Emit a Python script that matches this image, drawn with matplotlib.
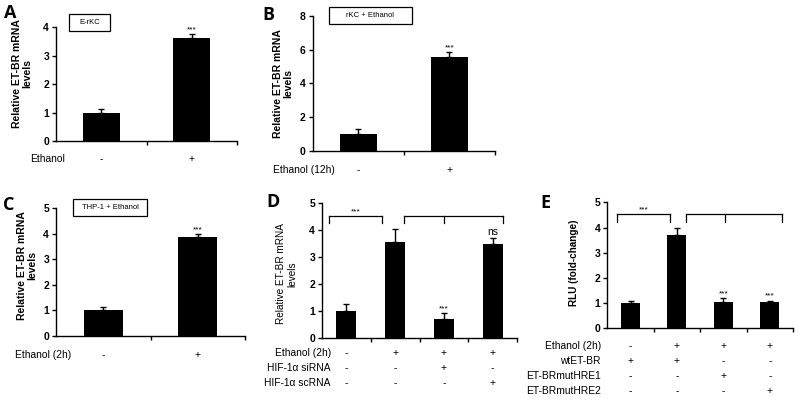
import numpy as np
import matplotlib
matplotlib.use('Agg')
import matplotlib.pyplot as plt
from matplotlib.patches import Rectangle
from matplotlib.transforms import blended_transform_factory

plt.rcParams['font.family'] = ['Liberation Sans', 'DejaVu Sans']

# ---------------- data ----------------
A_signs = ['-', '+']
A_values = [1.0, 3.62]
A_errors = [0.13, 0.14]

B_signs = ['-', '+']
B_values = [1.0, 5.55]
B_errors = [0.27, 0.33]

C_signs = ['-', '+']
C_values = [1.0, 3.88]
C_errors = [0.11, 0.10]

D_values = [1.0, 3.58, 0.71, 3.50]
D_errors = [0.26, 0.47, 0.22, 0.23]
D_row_labels = ['Ethanol (2h)', 'HIF-1α siRNA', 'HIF-1α scRNA']
D_rows = [['-', '+', '+', '+'],
          ['-', '-', '+', '-'],
          ['-', '-', '-', '+']]

E_values = [1.0, 3.70, 1.06, 1.03]
E_errors = [0.08, 0.27, 0.13, 0.07]
E_row_labels = ['Ethanol (2h)', 'wtET-BR', 'ET-BRmutHRE1', 'ET-BRmutHRE2']
E_rows = [['-', '+', '+', '+'],
          ['+', '+', '-', '-'],
          ['-', '-', '+', '-'],
          ['-', '-', '-', '+']]

W, H = 800, 400
fig = plt.figure(figsize=(8, 4), dpi=100)


def fx(x):
    return x / W


def fy(y):
    return 1 - y / H


def make_ax(x0, x1, ytop, ybot, ymax, ystep, n):
    ax = fig.add_axes([fx(x0), fy(ybot), (x1 - x0) / W, (ybot - ytop) / H])
    ax.set_xlim(-0.5, n - 0.5)
    ax.set_ylim(0, ymax)
    ax.set_yticks(np.arange(0, ymax + 0.01, ystep))
    ax.set_yticklabels([f'{int(v)}' for v in np.arange(0, ymax + 0.01, ystep)],
                       fontweight='bold')
    for s in ['top', 'right']:
        ax.spines[s].set_visible(False)
    for s in ['left', 'bottom']:
        ax.spines[s].set_linewidth(1.0)
    ax.set_xticks([])
    ax.set_xticks(np.arange(0.5, n, 1), minor=True)
    ax.tick_params(axis='x', which='minor', direction='out', length=3, width=1)
    ax.tick_params(axis='y', direction='out', length=3, width=1, labelsize=7.5, pad=2)
    return ax


def draw_bars(ax, values, errors):
    n = len(values)
    x = np.arange(n)
    ax.bar(x, values, width=0.41, color='black', zorder=2)
    ax.errorbar(x, values, yerr=[np.zeros(n), errors], fmt='none', ecolor='black',
                elinewidth=1, capsize=2.5, capthick=1, zorder=3)


def stars(ax, i, values, errors, text='***', size=6):
    ax.annotate(text, (i, values[i] + errors[i]), xytext=(0, 0.5),
                textcoords='offset points', ha='center', va='bottom', fontsize=size)


def rows(ax, labels, signs, ys, xlab, ha):
    tr = blended_transform_factory(ax.transData, fig.transFigure)
    for lab, sg, y in zip(labels, signs, ys):
        fig.text(fx(xlab), fy(y), lab, ha=ha, va='center', fontsize=7.4)
        for i, s in enumerate(sg):
            ax.text(i, fy(y), s, transform=tr, ha='center', va='center', fontsize=7.4)


def label_box(x0, y0, x1, y1, text):
    fig.patches.append(Rectangle((fx(x0), fy(y1)), (x1 - x0) / W, (y1 - y0) / H,
                                 transform=fig.transFigure, fill=False,
                                 edgecolor='black', linewidth=0.9))
    fig.text(fx((x0 + x1) / 2), fy((y0 + y1) / 2), text, ha='center', va='center',
             fontsize=5.5)


def ylab(x, y, text, weight='bold', size=7.5):
    fig.text(fx(x), fy(y), text, rotation=90, ha='center', va='center',
             multialignment='center', fontsize=size, fontweight=weight, linespacing=1.1)


def bracket(ax, xs, top, leg):
    ax.plot([xs[0], xs[-1]], [top, top], color='black', lw=0.9, clip_on=False)
    for xv in xs:
        ax.plot([xv, xv], [top, leg], color='black', lw=0.9, clip_on=False)


def panel_letter(x, y, s):
    fig.text(fx(x), fy(y), s, ha='left', va='center', fontsize=13,
             fontweight='bold', family=['Open Sans', 'DejaVu Sans'])


# ---------------- A ----------------
axA = make_ax(56, 237, 27, 141.3, 4, 1, 2)
draw_bars(axA, A_values, A_errors)
stars(axA, 1, A_values, A_errors)
rows(axA, ['Ethanol'], [A_signs], [159], 30, 'left')
label_box(69, 14, 110, 31, 'E-rKC')
ylab(22, 74, 'Relative ET-BR mRNA\nlevels')
panel_letter(4, 13, 'A')

# ---------------- B ----------------
axB = make_ax(312.7, 495, 16, 150.7, 8, 2, 2)
draw_bars(axB, B_values, B_errors)
stars(axB, 1, B_values, B_errors)
rows(axB, ['Ethanol (12h)'], [B_signs], [170], 273, 'left')
label_box(329, 7.5, 412, 24, 'rKC + Ethanol')
ylab(283, 84, 'Relative ET-BR mRNA\nlevels')
panel_letter(262, 15, 'B')

# ---------------- C ----------------
axC = make_ax(56, 245, 208.3, 335.7, 5, 1, 2)
draw_bars(axC, C_values, C_errors)
stars(axC, 1, C_values, C_errors)
rows(axC, ['Ethanol (2h)'], [C_signs], [355], 15, 'left')
label_box(73, 199, 147, 216, 'THP-1 + Ethanol')
ylab(27, 266, 'Relative ET-BR mRNA\nlevels')
panel_letter(3, 205, 'C')

# ---------------- D ----------------
axD = make_ax(322, 517, 203.3, 338.3, 5, 1, 4)
draw_bars(axD, D_values, D_errors)
stars(axD, 2, D_values, D_errors)
stars(axD, 3, D_values, D_errors, text='ns', size=7.5)
bracket(axD, [-0.356, 0.735], 4.54, 4.26)
bracket(axD, [1.19, 2.0, 3.21], 4.54, 4.26)
axD.text((-0.356 + 0.735) / 2, 4.57, '***', ha='center', va='bottom', fontsize=6)
rows(axD, D_row_labels, D_rows, [353.3, 368.3, 383.3], 331, 'right')
ylab(286.5, 274, 'Relative ET-BR mRNA\nlevels', weight='normal', size=7.2)
panel_letter(266, 202, 'D')

# ---------------- E ----------------
axE = make_ax(607.3, 793, 202.3, 328.3, 5, 1, 4)
draw_bars(axE, E_values, E_errors)
stars(axE, 2, E_values, E_errors)
stars(axE, 3, E_values, E_errors)
bracket(axE, [-0.285, 0.85], 4.54, 4.23)
bracket(axE, [1.186, 2.04, 3.27], 4.54, 4.23)
axE.text((-0.285 + 0.85) / 2, 4.57, '***', ha='center', va='bottom', fontsize=6)
rows(axE, E_row_labels, E_rows, [345.7, 360.7, 375.7, 391], 601, 'right')
ylab(574, 263, 'RLU (fold-change)', size=7.2)
panel_letter(540, 203, 'E')

fig.savefig('out.png', dpi=100)
